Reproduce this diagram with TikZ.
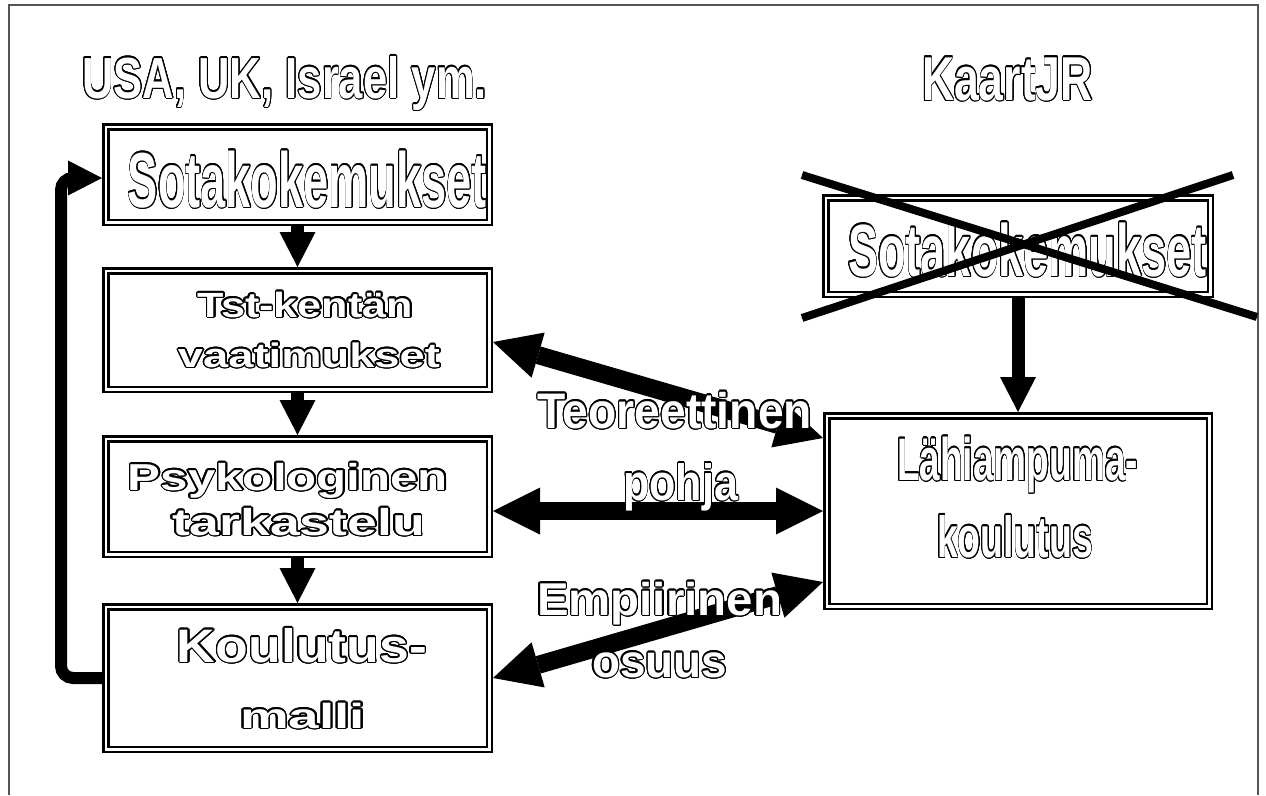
\documentclass[tikz,border=0pt]{standalone}
\usepackage{fontspec}
\setmainfont{Liberation Sans}
\usepackage{graphicx}
\usepackage{contour}
\usetikzlibrary{arrows.meta,calc}
\contourlength{1.15pt}
\contournumber{24}
\definecolor{framegray}{RGB}{85,85,85}
\newcommand\otx[3]{\resizebox{#1pt}{\height}{\fontsize{#2pt}{#2pt}\selectfont\bfseries\contour{black}{#3}}}
\tikzset{
  dbox/.style={draw=black, double=white, line width=2.5pt, double distance=2.5pt, inner sep=0pt, outer sep=3.75pt},
  txt/.style={inner sep=0pt, text=white, anchor=base},
  vdown/.style={line width=13pt, -{Triangle[length=35pt,width=36pt,line width=0pt]}},
  harr/.style={line width=18pt, {Triangle[length=47pt,width=47pt,line width=0pt]}-{Triangle[length=47pt,width=47pt,line width=0pt]}},
  fbarr/.style={line width=12pt, rounded corners=12pt, -{Triangle[length=34pt,width=35pt,line width=0pt]}},
  xline/.style={line width=8pt},
  frameline/.style={draw=framegray, line width=2pt}
}
\begin{document}
\begin{tikzpicture}[x=1pt,y=-1pt]
\useasboundingbox (0,0) rectangle (1266,795);
\coordinate (fa) at (9,795);
\coordinate (fb) at (9,5);
\coordinate (fc) at (1258,5);
\coordinate (fd) at (1258,795);
\draw[frameline] (fa) -- (fb) -- (fc) -- (fd);

% boxes
\node[dbox, minimum width=383.5pt, minimum height=95.5pt] (b1) at (297.5,174.5) {};
\node[dbox, minimum width=383.5pt, minimum height=118.5pt] (b2) at (297.5,330) {};
\node[dbox, minimum width=383.5pt, minimum height=115.5pt] (b3) at (297.5,496.5) {};
\node[dbox, minimum width=383.5pt, minimum height=142.5pt] (b4) at (297.5,678) {};
\node[dbox, minimum width=384.5pt, minimum height=96.5pt] (b5) at (1018,246) {};
\node[dbox, minimum width=382.5pt, minimum height=190.5pt] (b6) at (1018,511) {};

% vertical arrows
\draw[vdown] (b1.south) -- (b2.north);
\draw[vdown] (b2.south) -- (b3.north);
\draw[vdown] (b3.south) -- (b4.north);
\draw[vdown] (b5.south) -- (b6.north);

% feedback
\coordinate (fbc) at (61,178);
\draw[fbarr] (b4.west) -| (fbc) -- (b1.west |- fbc);

% double arrows
\draw[harr] ([yshift=-12pt]b2.east) -- ([yshift=73pt]b6.west);
\draw[harr] (b3.east |- b6.west) -- (b6.west);
\draw[harr] (b4.east) -- ([yshift=-71pt]b6.west);

% texts
\node[txt] (tusa) at (284.5,98) {\otx{405}{58}{USA, UK, Israel ym.}};
\node[txt] (tkaart) at (1007.5,100) {\otx{171}{62}{KaartJR}};
\node[txt] (t1) at (307.5,207) {\otx{359}{78}{Sotakokemukset}};
\node[txt] (t5) at (1027.5,276) {\otx{359}{74}{Sotakokemukset}};
\node[txt] (t2a) at (305.5,317) {\otx{215}{35}{Tst-kentän}};
\node[txt] (t2b) at (309,367) {\otx{262}{34}{vaatimukset}};
\node[txt] (t3a) at (288,490) {\otx{320}{37.5}{Psykologinen}};
\node[txt] (t3b) at (298.5,535) {\otx{253}{37.5}{tarkastelu}};
\node[txt] (t4a) at (302,662) {\otx{250}{47}{Koulutus-}};
\node[txt] (t4b) at (302.5,728) {\otx{125}{35}{malli}};
\node[txt] (t6a) at (1017.5,480) {\otx{241}{60}{Lähiampuma-}};
\node[txt] (t6b) at (1015,557) {\otx{156}{58}{koulutus}};
\node[txt] (la) at (675,428) {\otx{274}{50}{Teoreettinen}};
\node[txt] (lb) at (680.5,500) {\otx{115}{51}{pohja}};
\node[txt] (lc) at (659.5,615) {\otx{245}{46}{Empiirinen}};
\node[txt] (ld) at (659.5,677) {\otx{135}{46}{osuus}};

% cross
\coordinate (x1a) at (802,175);
\coordinate (x1b) at (1257,317);
\coordinate (x2a) at (802,318);
\coordinate (x2b) at (1233,175);
\draw[xline] (x1a) -- (x1b);
\draw[xline] (x2a) -- (x2b);
\end{tikzpicture}
\end{document}
